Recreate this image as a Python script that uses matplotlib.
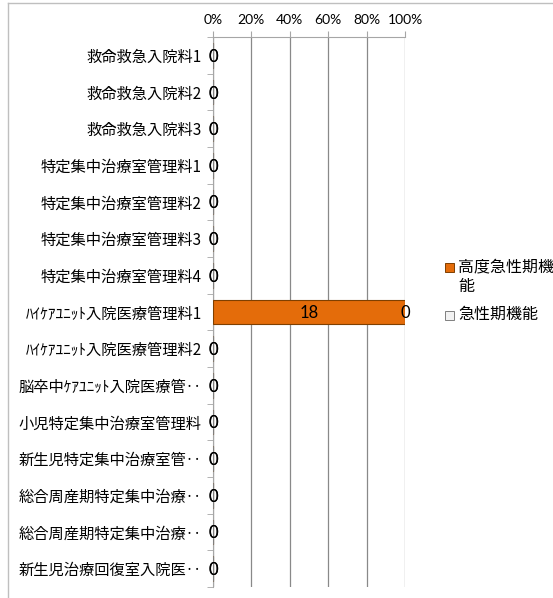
import matplotlib.pyplot as plt
from matplotlib.patches import Rectangle
from matplotlib.lines import Line2D

plt.rcParams['font.family'] = ['Noto Sans CJK JP', 'DejaVu Sans']

categories = [
    "救命救急入院料1",
    "救命救急入院料2",
    "救命救急入院料3",
    "特定集中治療室管理料1",
    "特定集中治療室管理料2",
    "特定集中治療室管理料3",
    "特定集中治療室管理料4",
    "ﾊｲｹｱﾕﾆｯﾄ入院医療管理料1",
    "ﾊｲｹｱﾕﾆｯﾄ入院医療管理料2",
    "脳卒中ｹｱﾕﾆｯﾄ入院医療管‥",
    "小児特定集中治療室管理料",
    "新生児特定集中治療室管‥",
    "総合周産期特定集中治療‥",
    "総合周産期特定集中治療‥",
    "新生児治療回復室入院医‥",
]
high_acute = [0, 0, 0, 0, 0, 0, 0, 18, 0, 0, 0, 0, 0, 0, 0]
acute = [0, 0, 0, 0, 0, 0, 0, 0, 0, 0, 0, 0, 0, 0, 0]
series_names = ["高度急性期機能", "急性期機能"]
xticks = [0, 20, 40, 60, 80, 100]

color_high = "#E46C0A"
color_acute = "#F2F2F2"
num_font = ['Lato', 'DejaVu Sans']

W, H = 553, 598
fig = plt.figure(figsize=(W / 100, H / 100), dpi=100)
ax = fig.add_axes([213 / W, 11 / H, 192 / W, 550 / H])

ypos = list(range(len(categories)))
totals = [a + b for a, b in zip(high_acute, acute)]
pct_high = [a / t * 100 if t else 0 for a, t in zip(high_acute, totals)]
pct_acute = [b / t * 100 if t else 0 for b, t in zip(acute, totals)]

ax.barh(ypos, pct_high, height=0.68, color=color_high, edgecolor="#7F3F00", linewidth=0.8, zorder=3)
ax.barh(ypos, pct_acute, left=pct_high, height=0.68, color=color_acute, edgecolor="#7F7F7F",
        linewidth=0.8, zorder=3)

# data labels, centred in each segment
for y, ph, pa, vh, va in zip(ypos, pct_high, pct_acute, high_acute, acute):
    ax.text(ph / 2, y, str(vh), ha="center", va="center_baseline", fontsize=12, family=num_font, zorder=4)
    ax.text(ph + pa / 2, y, str(va), ha="center", va="center_baseline", fontsize=12, family=num_font,
            zorder=4)

ax.set_xlim(0, 100)
ax.set_ylim(len(categories) - 0.5, -0.5)
ax.set_xticks(xticks)
ax.set_xticklabels([f"{t}%" for t in xticks], fontsize=10, family=num_font)
ax.xaxis.tick_top()
ax.tick_params(axis="x", length=4, color="#A6A6A6", pad=4)
ax.set_yticks(ypos)
ax.set_yticklabels(categories, fontsize=11)
ax.tick_params(axis="y", length=0, pad=8)
ax.set_yticks([y + 0.5 for y in ypos[:-1]] + [-0.5, len(categories) - 0.5], minor=True)
ax.tick_params(axis="y", which="minor", length=4, color="#A6A6A6")

ax.grid(axis="x", color="#898989", linewidth=0.9, zorder=0)
for side in ["right", "bottom"]:
    ax.spines[side].set_visible(False)
for side in ["top", "left"]:
    ax.spines[side].set_color("#A6A6A6")

# legend drawn by hand so the square sits on the first line of the wrapped label
legend_rows = [
    (series_names[0][:6] + "\n" + series_names[0][6:], color_high, "#7F3F00", 267),
    (series_names[1], color_acute, "#7F7F7F", 315),
]
for label, face, edge, yc in legend_rows:
    fig.add_artist(Rectangle((445 / W, 1 - (yc + 4.5) / H), 9 / W, 9 / H, facecolor=face,
                             edgecolor=edge, linewidth=0.7, transform=fig.transFigure))
    fig.text(458 / W, 1 - (yc - 9) / H, label, ha="left", va="top", fontsize=11.5, linespacing=1.25)

# outer chart frame (top and left edges visible)
fig.add_artist(Line2D([8 / W, 1], [1 - 3 / H, 1 - 3 / H], color="#BFBFBF", lw=1))
fig.add_artist(Line2D([8 / W, 8 / W], [0, 1 - 3 / H], color="#BFBFBF", lw=1))

fig.savefig("out.png", dpi=100)
